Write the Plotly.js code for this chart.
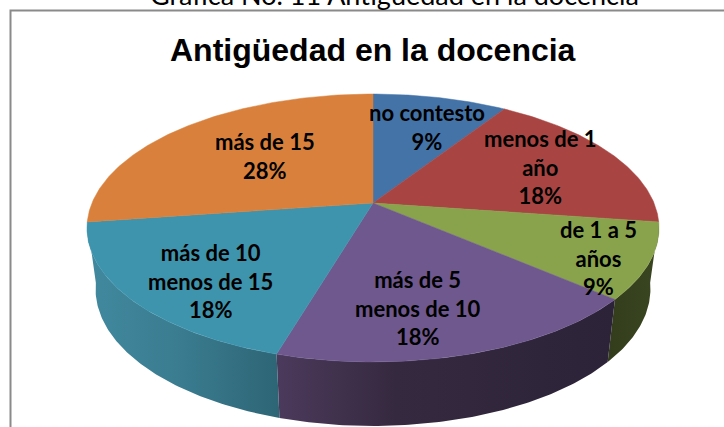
<!DOCTYPE html>
<html><head><meta charset="utf-8">
<script src="https://cdn.plot.ly/plotly-3.0.1.min.js"></script>
<style>html,body{margin:0;padding:0;background:#fff;overflow:hidden}</style>
</head><body><div id="chart" style="width:724px;height:427px"></div>
<script>
// Data
const categories = ['no contesto','menos de 1<br>año','de 1 a 5<br>años','más de 5<br>menos de 10','más de 10<br>menos de 15','más de 15'];
const counts = [1,2,1,2,2,3];
const percentLabels = ['9%','18%','9%','18%','18%','28%'];
const sliceColors = ['#4473a8','#a84543','#89a34d','#6f588e','#3f94ad','#d9813c'];
const wallShades = [null,null,
  [[0,'#333d1d'],[1,'#3a4520']],
  [[0,'#4c3a5c'],[0.35,'#35293f'],[1,'#2c2338']],
  [[0,'#41899f'],[0.5,'#3a7b8f'],[1,'#2d6575']],
  null];
const labelX = [427,540,598,418,210,265];
const labelY = [127,167,258,308,281,156];
const chartTitle = 'Antigüedad en la docencia';
const caption = 'Gráfica No. 11 Antigüedad en la docencia';

// Projection of the tilted pie
const cx=373, cy=203, A=281, B=129.3, k=0.1866, wallScale=0.97;
const total = counts.reduce((a,b)=>a+b,0);
function rim(deg){
  const t=deg*Math.PI/180, d=1+k*Math.cos(t);
  return [cx+A*Math.sin(t)/d, cy-B*Math.cos(t)/d];
}
function lower(p){
  return [cx+(p[0]-cx)*wallScale, 289+(p[1]-228)*1.0224];
}
function arc(a,b){
  const n=Math.max(8,Math.ceil(Math.abs(b-a)*1.5)), out=[];
  for(let i=0;i<=n;i++) out.push(rim(a+(b-a)*i/n));
  return out;
}
const traces=[];
let start=0;
const spans=counts.map(c=>{const s=[start,start+c/total*360];start=s[1];return s;});
// walls first
spans.forEach((s,i)=>{
  if(!wallShades[i]) return;
  const top=arc(s[0],s[1]), bot=top.map(lower).reverse(), pts=top.concat(bot);
  pts.push(pts[0]);
  const last=wallShades[i][wallShades[i].length-1][1];
  traces.push({type:'scatter',mode:'lines',x:pts.map(p=>p[0]),y:pts.map(p=>p[1]),
    line:{width:0,color:last},fill:'toself',fillcolor:last,
    fillgradient:{type:'horizontal',colorscale:wallShades[i]},
    hoverinfo:'skip',showlegend:false});
});
// top faces
spans.forEach((s,i)=>{
  const pts=[[cx,cy]].concat(arc(s[0],s[1]));
  pts.push([cx,cy]);
  traces.push({type:'scatter',mode:'lines',x:pts.map(p=>p[0]),y:pts.map(p=>p[1]),
    line:{width:0.5,color:sliceColors[i]},fill:'toself',fillcolor:sliceColors[i],
    name:categories[i],hoverinfo:'skip',showlegend:false});
});
const annotations=categories.map((c,i)=>({
  x:labelX[i],y:labelY[i],xref:'x',yref:'y',text:'<b>'+c+'<br>'+percentLabels[i]+'</b>',
  showarrow:false,align:'center',xanchor:'center',yanchor:'middle',
  font:{family:'Lato, Carlito, sans-serif',size:22,color:'#000'}
}));
annotations.push({x:394,y:0,yshift:6,xref:'x',yref:'y',text:caption,showarrow:false,xanchor:'center',yanchor:'middle',
  font:{family:'Lato, sans-serif',size:27,color:'#000'}});
annotations.push({x:373,y:50,xref:'x',yref:'y',text:'<b>'+chartTitle+'</b>',showarrow:false,xanchor:'center',yanchor:'middle',
  font:{family:'Liberation Sans, Arial, sans-serif',size:32,color:'#000'}});
const layout={
  width:724,height:427,margin:{l:0,r:0,t:0,b:0},paper_bgcolor:'#fff',plot_bgcolor:'#fff',
  xaxis:{range:[0,724],visible:false,fixedrange:true},
  yaxis:{range:[427,0],visible:false,fixedrange:true},
  showlegend:false,annotations,
  shapes:[{type:'rect',xref:'x',yref:'y',x0:10.5,y0:10.5,x1:740,y1:440,line:{color:'#8a8a8a',width:2},layer:'below'}]
};
Plotly.newPlot('chart',traces,layout,{staticPlot:true});
</script></body></html>
